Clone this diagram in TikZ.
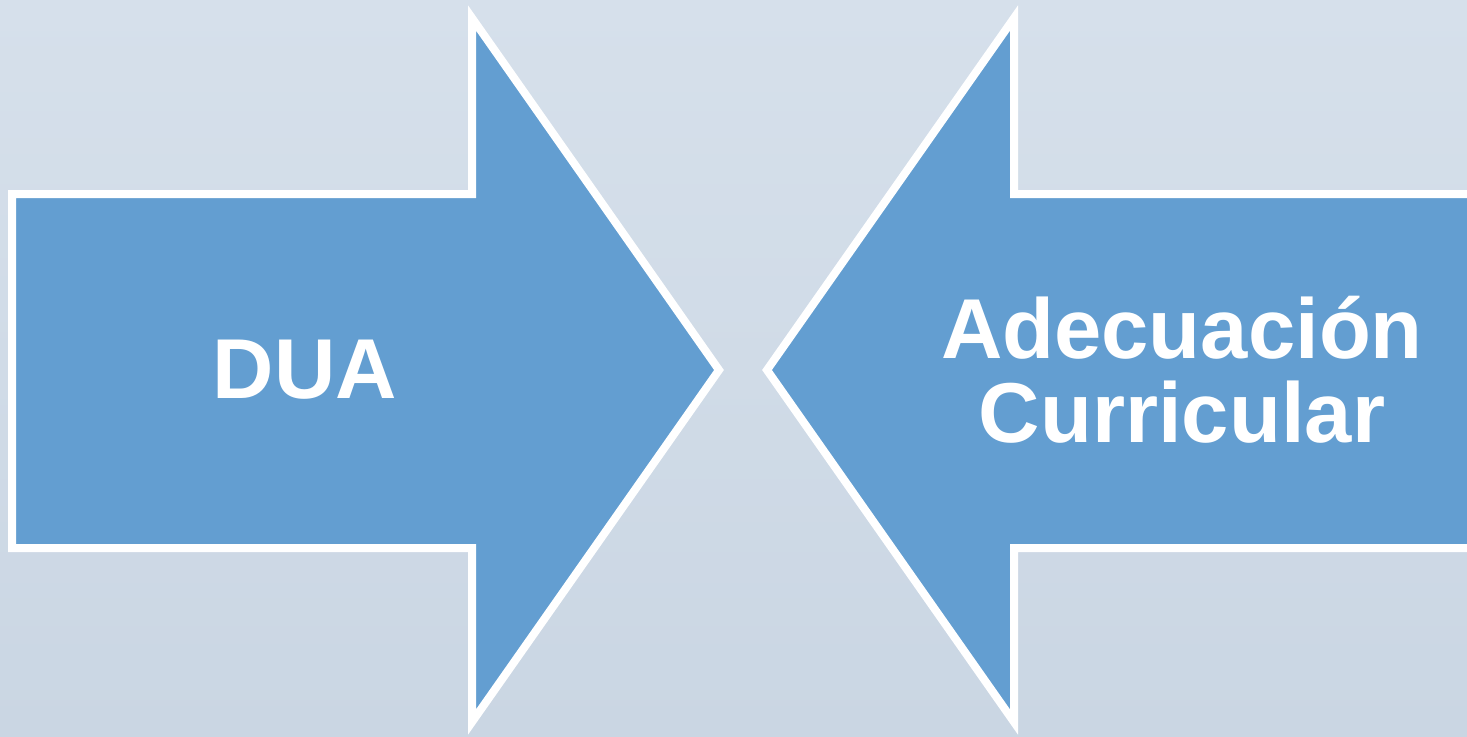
\documentclass[tikz,border=0pt]{standalone}
\usepackage{fontspec}
\setmainfont{Liberation Sans}
\definecolor{bgtop}{HTML}{D6E0EB}
\definecolor{bgbot}{HTML}{CAD6E3}
\definecolor{arrowblue}{HTML}{639ED1}
\begin{document}
\begin{tikzpicture}[x=0.5pt,y=-0.5pt,
  arrowshape/.style={fill=arrowblue,draw=white,line width=4pt,line join=miter,miter limit=10},
  label/.style={text=white,font=\bfseries\fontsize{42.5}{42}\selectfont,align=center}]
\useasboundingbox (0,0) rectangle (1467,736);
\clip (0,0) rectangle (1467,736);
\shade[top color=bgtop,bottom color=bgbot] (0,0) rectangle (1467,736);
% left arrow
\draw[arrowshape] (12,194) -- (472,194) -- (472,18) -- (719,370) -- (472,722) -- (472,548) -- (12,548) -- cycle;
% right arrow
\draw[arrowshape] (1474,194) -- (1014,194) -- (1014,18) -- (767,370) -- (1014,722) -- (1014,548) -- (1474,548) -- cycle;
\node[label] (dua) at (305,370) {DUA};
\node[label] (ac) at (1182,370) {Adecuación\\Curricular};
\end{tikzpicture}
\end{document}
